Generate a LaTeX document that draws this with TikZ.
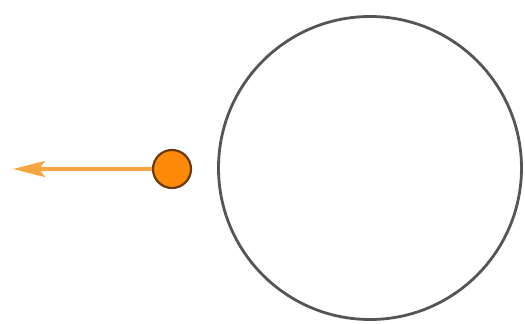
\documentclass[tikz,border=0pt]{standalone}
\usetikzlibrary{arrows.meta}
\definecolor{ballfill}{HTML}{FF8A0A}
\definecolor{ballline}{HTML}{6A3A10}
\definecolor{arrowcol}{HTML}{F7A540}
\definecolor{ringcol}{HTML}{555555}
\begin{document}
\begin{tikzpicture}[x=1pt,y=-1pt,
  ring/.style={circle,draw=ringcol,line width=2.8pt,minimum size=303pt,inner sep=0pt},
  ball/.style={circle,draw=ballline,fill=ballfill,line width=2.2pt,minimum size=38pt,inner sep=0pt},
  vel/.style={draw=arrowcol,line width=3.6pt,-{Stealth[length=32pt,width=16pt,inset=6pt]}}]
\useasboundingbox (0,0) rectangle (525,324);
\node[ring] (planet) at (370,168) {};
\node[ball] (body) at (172,169) {};
\coordinate (tip) at (13,169);
\draw[vel] (body.west) -- (tip);
\end{tikzpicture}
\end{document}
